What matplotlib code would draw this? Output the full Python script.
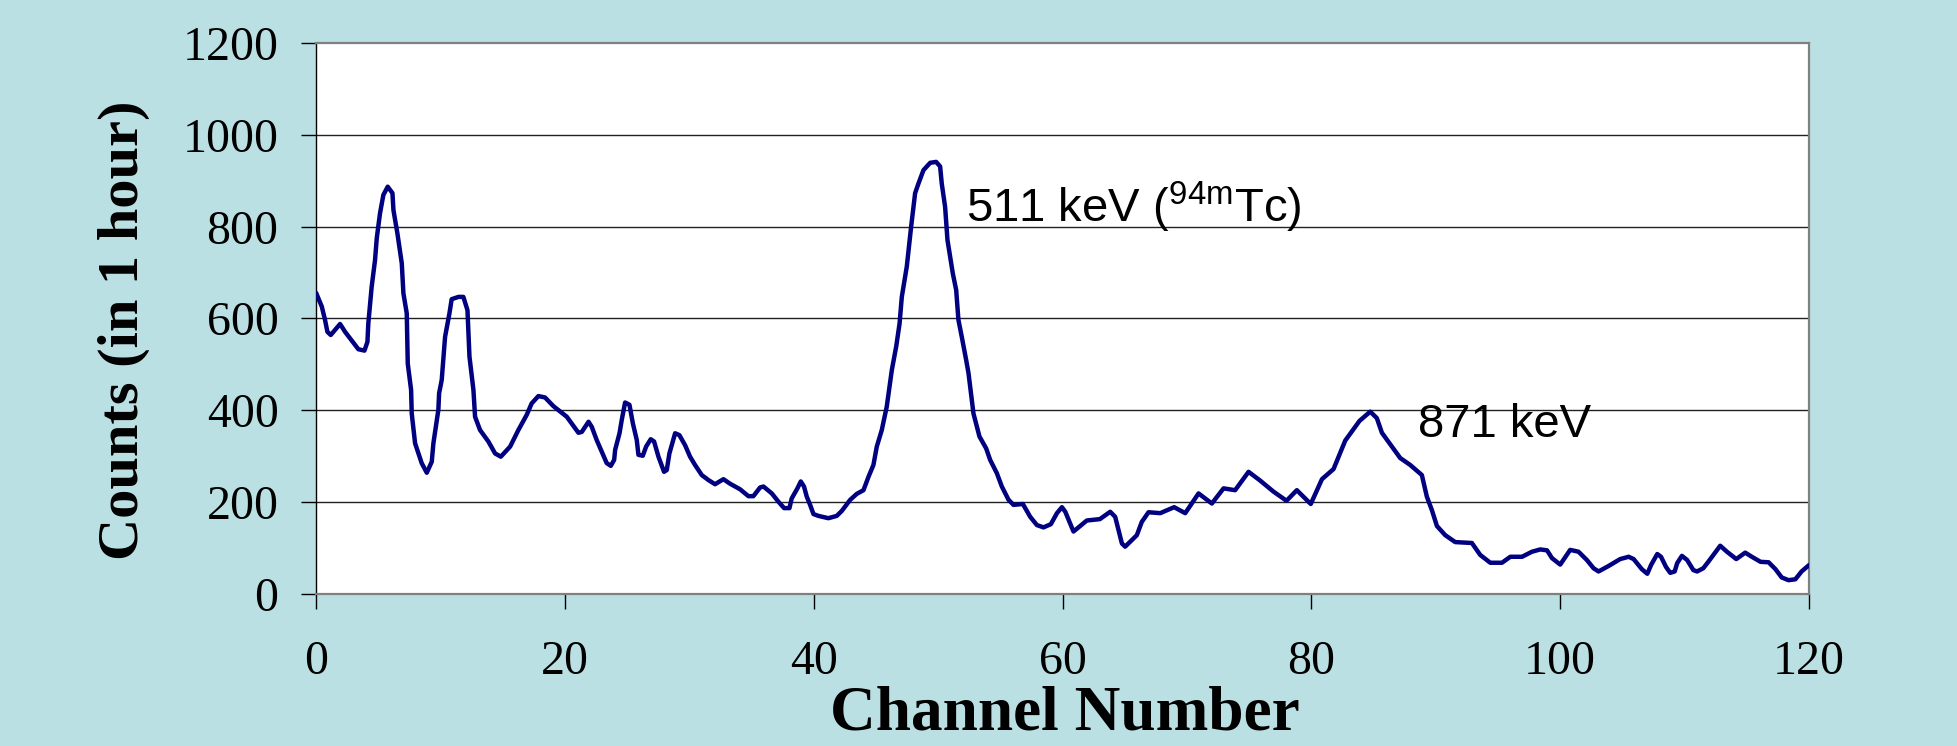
#!/usr/bin/env python3
# -*- coding: utf-8 -*-
"""
Gamma spectrum (counts per channel, 1 hour) with annotated peaks.

Output:
    out.png
"""

import matplotlib
matplotlib.use("Agg")
import matplotlib.pyplot as plt
import numpy as np


CHANNEL = [
    0, 0.46, 0.72, 0.91, 1.18, 1.93, 2.33, 2.95, 3.4, 3.89, 4.13, 4.2, 4.47, 4.74, 4.88,
    5.14, 5.41, 5.76, 6.14, 6.22, 6.54, 6.89, 7.02, 7.29, 7.37, 7.64, 7.69, 7.96, 8.49,
    8.9, 9.3, 9.43, 9.83, 9.89, 10.1, 10.37, 10.72, 10.9, 11.45, 11.84, 12.17, 12.33,
    12.65, 12.78, 13.18, 13.85, 14.39, 14.85, 15.6, 16.26, 16.93, 17.33, 17.87, 18.4,
    19.08, 19.88, 20.15, 21.09, 21.36, 21.9, 22.16, 22.56, 22.96, 23.36, 23.69, 23.96,
    24.04, 24.39, 24.57, 24.84, 25.19, 25.46, 25.78, 25.91, 26.26, 26.53, 26.9, 27.17,
    27.52, 27.97, 28.19, 28.4, 28.86, 29.2, 29.66, 30.06, 30.46, 31.0, 31.54, 32.07,
    32.74, 33.28, 34.08, 34.75, 35.15, 35.69, 35.96, 36.63, 37.16, 37.62, 38.05, 38.23,
    38.69, 38.96, 39.22, 39.44, 39.71, 39.98, 40.38, 41.18, 41.85, 42.26, 42.93, 43.46,
    44.0, 44.4, 44.8, 45.07, 45.47, 45.87, 46.28, 46.63, 46.9, 47.08, 47.48, 47.83,
    48.15, 48.42, 48.82, 49.36, 49.84, 50.16, 50.29, 50.56, 50.75, 51.18, 51.45, 51.63,
    51.9, 52.25, 52.44, 52.84, 53.32, 53.86, 54.18, 54.72, 55.12, 55.66, 56.06, 56.81,
    57.4, 57.94, 58.47, 59.06, 59.55, 59.95, 60.22, 60.88, 61.95, 63.0, 63.83, 64.23,
    64.77, 65.03, 65.97, 66.37, 66.91, 67.85, 68.97, 69.86, 70.93, 72.0, 72.94, 73.87,
    74.95, 75.88, 76.95, 78.0, 78.83, 79.95, 80.85, 81.78, 82.72, 83.87, 84.73, 85.26,
    85.67, 86.47, 87.14, 87.94, 88.88, 89.28, 89.68, 90.09, 90.76, 91.56, 92.9, 93.57,
    94.38, 95.32, 95.99, 96.93, 97.73, 98.4, 98.94, 99.34, 100.0, 100.8, 101.47, 102.14,
    102.68, 103.08, 103.89, 104.82, 105.5, 105.9, 106.56, 107.0, 107.3, 107.8, 108.1,
    108.5, 108.84, 109.2, 109.4, 109.78, 110.2, 110.7, 111.0, 111.5, 111.9, 112.5,
    112.86, 113.4, 114.15, 114.87, 115.4, 116.1, 116.75, 117.3, 117.8, 118.35, 118.9,
    119.4, 120.0,
]
COUNTS = [
    656, 626, 597, 571, 564, 588, 571, 549, 533, 530, 549, 589, 669, 727, 775,
    829, 869, 887, 873, 836, 785, 720, 655, 611, 502, 444, 393, 328, 285,
    264, 288, 328, 401, 437, 466, 560, 611, 642, 647, 647, 618, 517,
    444, 386, 357, 332, 306, 299, 321, 357, 390, 415, 431, 428,
    409, 392, 386, 351, 353, 375, 364, 335, 310, 285, 279, 292,
    314, 350, 379, 417, 412, 372, 335, 303, 301, 321, 337, 332,
    299, 266, 270, 306, 350, 346, 324, 299, 281, 259, 248, 239,
    250, 240, 228, 213, 213, 232, 234, 219, 201, 187, 187, 208,
    230, 245, 234, 212, 194, 174, 170, 165, 170, 181, 205, 218,
    226, 255, 281, 321, 357, 408, 488, 539, 589, 647, 713, 800,
    873, 894, 923, 939, 941, 931, 894, 843, 771, 698, 662, 597,
    560, 510, 481, 393, 343, 317, 292, 263, 234, 205, 194, 196,
    168, 150, 145, 152, 176, 189, 179, 136, 160, 163, 179, 168,
    110, 103, 128, 157, 178, 176, 189, 176, 219, 197, 230, 226,
    266, 247, 223, 203, 226, 196, 250, 272, 334, 377, 397, 383,
    351, 321, 296, 281, 259, 212, 183, 148, 128, 113, 111, 85,
    68, 68, 81, 81, 92, 97, 95, 78, 64, 96, 92, 74,
    56, 49, 61, 76, 81, 76, 54, 44, 63, 87, 81,
    59, 46, 49, 67, 83, 74, 52, 49, 56, 70, 92,
    105, 92, 76, 90, 81, 70, 69, 54, 36, 30, 32,
    49, 63,
]

X_TICKS = [0, 20, 40, 60, 80, 100, 120]
Y_TICKS = [0, 200, 400, 600, 800, 1000, 1200]

PEAK_LABELS = [r"511 keV ($\mathregular{^{94m}}$Tc)", "871 keV"]
PEAK_POS = [(52.2, 810), (88.6, 342)]

BG = "#BBE0E3"
LINE = "#000080"
SERIF = ["Liberation Serif", "DejaVu Serif"]
SANS = ["Liberation Sans", "DejaVu Sans"]


def main():
    fig = plt.figure(figsize=(19.57, 7.46), dpi=100, facecolor=BG)
    ax = fig.add_axes([0.1615, 0.2038, 0.9244 - 0.1615, 0.9424 - 0.2038])
    ax.set_facecolor("white")

    ax.plot(np.array(CHANNEL), np.array(COUNTS), color=LINE, lw=3.2,
            solid_joinstyle="round", solid_capstyle="round", zorder=3)

    ax.set_xlim(X_TICKS[0], X_TICKS[-1])
    ax.set_ylim(Y_TICKS[0], Y_TICKS[-1])
    ax.set_xticks(X_TICKS)
    ax.set_yticks(Y_TICKS)
    ax.set_xticklabels([str(v) for v in X_TICKS], family=SERIF, fontsize=34.5)
    ax.set_yticklabels([str(v) for v in Y_TICKS], family=SERIF, fontsize=34.5)
    ax.tick_params(axis="x", direction="out", length=11, width=1, color="black", pad=22)
    ax.tick_params(axis="y", direction="out", length=11, width=1, color="black", pad=16)

    for v in Y_TICKS[1:-1]:
        ax.axhline(v, color="#222222", lw=1.0, zorder=1)

    ax.spines["top"].set_color("#808080")
    ax.spines["top"].set_linewidth(1.6)
    ax.spines["bottom"].set_color("#808080")
    ax.spines["bottom"].set_linewidth(1.6)
    ax.spines["right"].set_color("#808080")
    ax.spines["right"].set_linewidth(1.6)
    ax.spines["left"].set_color("black")
    ax.spines["left"].set_linewidth(1.0)

    for label, (x, y) in zip(PEAK_LABELS, PEAK_POS):
        ax.text(x, y, label, family=SANS, fontsize=34, ha="left", va="baseline",
                color="black", zorder=4)

    fig.text(0.0634, 0.5576, "Counts (in 1 hour)", rotation=90, ha="center", va="center",
             family=SERIF, fontsize=42, fontweight="bold")
    fig.text(0.544, 1 - 730 / 746, "Channel Number", ha="center", va="baseline",
             family=SERIF, fontsize=45.5, fontweight="bold")

    fig.savefig("out.png", dpi=100, facecolor=BG)
    plt.close(fig)


if __name__ == "__main__":
    main()
